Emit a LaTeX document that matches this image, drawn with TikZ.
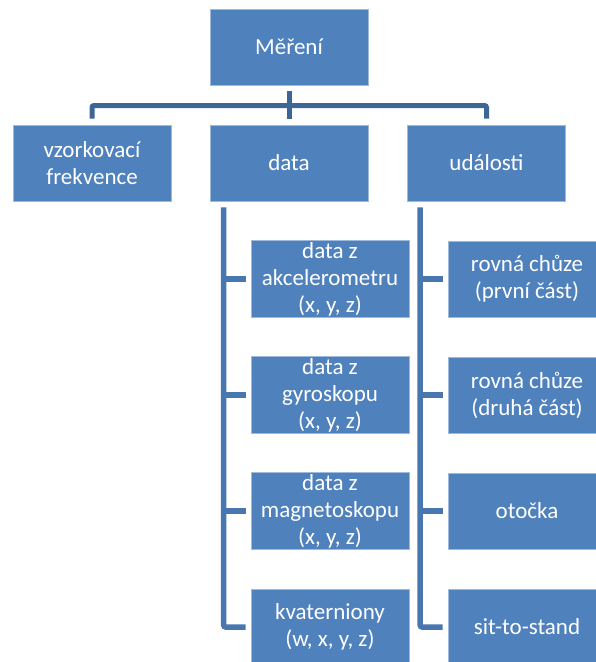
\documentclass[tikz,border=0pt]{standalone}
\usepackage{fontspec}
\setmainfont{Carlito}
\definecolor{boxblue}{HTML}{4F81BD}
\definecolor{topline}{HTML}{3D6696}
\definecolor{subline}{HTML}{4877B0}

\begin{document}
\begin{tikzpicture}[x=1pt,y=-1pt,
		box/.style={fill=boxblue,draw=boxblue!55!white,line width=0.7pt,text=white,minimum width=158pt,minimum height=76pt,inner sep=2pt,align=center,font=\fontsize{23}{27}\selectfont},
		conn/.style={topline,line width=5pt,rounded corners=2pt},
		subconn/.style={subline,line width=5.5pt,rounded corners=2pt}]
		\useasboundingbox (0,0) rectangle (595,662);
		% top
		\node[box] (mer) at (289,47) {Měření};
		\node[box] (vzo) at (92,163) {vzorkovací\\frekvence};
		\node[box] (dat) at (289,163) {data};
		\node[box] (uda) at (486.5,163) {události};
		% data
		\node[box] (d1) at (330,279) {data z\\akcelerometru\\(x, y, z)};
		\node[box] (d2) at (330,395) {data z\\gyroskopu\\(x, y, z)};
		\node[box] (d3) at (330,511) {data z\\magnetoskopu\\(x, y, z)};
		\node[box] (d4) at (330,627) {kvaterniony\\(w, x, y, z)};
		% udalosti
		\node[box] (u1) at (527,279) {rovná chůze\\(první část)};
		\node[box] (u2) at (527,395) {rovná chůze\\(druhá část)};
		\node[box] (u3) at (527,511) {otočka};
		\node[box] (u4) at (527,627) {sit-to-stand};
		% lines
		\coordinate (bus) at (289,105.5);
		\draw[conn] ([yshift=-6pt]mer.south) -- ([yshift=6pt]dat.north);
		\draw[conn] ([yshift=6pt]vzo.north) |- (bus) -| ([yshift=6pt]uda.north);
		\coordinate (dtrunk) at ([xshift=14pt,yshift=-6pt]dat.south west);
		\coordinate (utrunk) at ([xshift=13pt,yshift=-6pt]uda.south west);
		\draw[subconn] (dtrunk) |- ([xshift=-5pt]d4.west);
		\draw[subconn] (dtrunk |- d1.west) -- ([xshift=-5pt]d1.west);
		\draw[subconn] (dtrunk |- d2.west) -- ([xshift=-5pt]d2.west);
		\draw[subconn] (dtrunk |- d3.west) -- ([xshift=-5pt]d3.west);
		\draw[subconn] (utrunk) |- ([xshift=-5pt]u4.west);
		\draw[subconn] (utrunk |- u1.west) -- ([xshift=-5pt]u1.west);
		\draw[subconn] (utrunk |- u2.west) -- ([xshift=-5pt]u2.west);
		\draw[subconn] (utrunk |- u3.west) -- ([xshift=-5pt]u3.west);
	\end{tikzpicture}
\end{document}
